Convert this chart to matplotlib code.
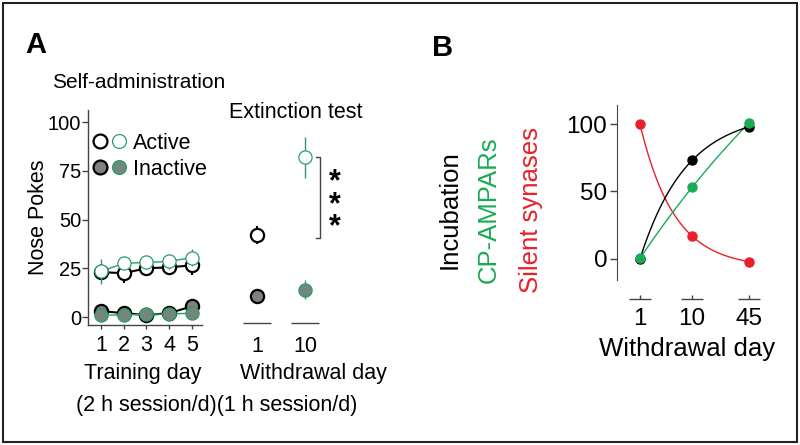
import numpy as np
import matplotlib
matplotlib.use("Agg")
import matplotlib.pyplot as plt
from matplotlib.lines import Line2D
from matplotlib.legend_handler import HandlerTuple
from matplotlib.patches import Rectangle

plt.rcParams['font.family'] = ['Liberation Sans', 'DejaVu Sans']

# =========================
# Data - panel A, self-administration
# =========================
train_days = [1, 2, 3, 4, 5]
active_blk = [23, 22.5, 25, 25.5, 26.5]
active_blk_err = [4, 5, 3.5, 4, 5]
active_grn = [23.5, 27.5, 28, 28.5, 30.5]
active_grn_err = [6.5, 3, 3, 4, 4.5]
inactive_blk = [3, 2, 1, 2, 5.5]
inactive_blk_err = [1, 1, 1, 1, 1.5]
inactive_grn = [1, 1, 1.5, 1.5, 2]
inactive_grn_err = [1, 1, 1, 1, 1]

# extinction test
ext_labels = ["1", "10"]
ext_active = [42, 82]
ext_active_err = [4.5, 10.5]
ext_inactive = [11, 14]
ext_inactive_err = [3, 5]
ext_colors = ["black", "#2a9d6c"]

# =========================
# Data - panel B
# =========================
wd_labels = ["1", "10", "45"]
wd_pos = [0, 1, 2.1]
incubation = [0, 73, 98]
cp_ampars = [0.5, 53, 101]
silent = [100, 17, -2]

GREEN_A = "#2a9d6c"
GREEN_B = "#1aab55"
RED_B = "#e8202b"
GRAY = "#808080"
GRAY_G = "#73877b"


def fit_exp(x, y):
    # y = a + b*exp(-k*x), grid search on k, least squares on a, b
    x = np.asarray(x, float)
    y = np.asarray(y, float)
    best = None
    for k in np.linspace(0.02, 6, 3000):
        A = np.column_stack([np.ones_like(x), np.exp(-k * x)])
        coef, *_ = np.linalg.lstsq(A, y, rcond=None)
        r = np.sum((A @ coef - y) ** 2)
        if best is None or r < best[0]:
            best = (r, coef[0], coef[1], k)
    return best[1:]


fig = plt.figure(figsize=(8, 4.45), dpi=100)

# =========================
# A1: self-administration
# =========================
ax1 = fig.add_axes([88/800, 1-325/445, 114/800, 215/445])
ax1.set_ylim(-4.1, 106.2)
ax1.set_xlim(0.43, 5.44)

ms = 9.5
ax1.errorbar(train_days, active_blk, yerr=active_blk_err, color="black", lw=1.5,
             marker="o", ms=ms, mfc="white", mec="black", mew=1.6, zorder=3)
ax1.errorbar(train_days, inactive_blk, yerr=inactive_blk_err, color="black", lw=1.5,
             marker="o", ms=ms, mfc=GRAY, mec="black", mew=1.6, zorder=3)
ax1.errorbar(train_days, active_grn, yerr=active_grn_err, color=GREEN_A, lw=1,
             marker="o", ms=ms, mfc="white", mec=GREEN_A, mew=0.9, zorder=4)
ax1.errorbar(train_days, inactive_grn, yerr=inactive_grn_err, color=GREEN_A, lw=1,
             marker="o", ms=ms, mfc=GRAY_G, mec=GREEN_A, mew=0.9, zorder=4)

for s in ["top", "right"]:
    ax1.spines[s].set_visible(False)
for s in ["left", "bottom"]:
    ax1.spines[s].set_color("#444444")
    ax1.spines[s].set_linewidth(1)
ax1.set_yticks([0, 25, 50, 75, 100])
ax1.set_xticks(train_days)
ax1.tick_params(axis="y", length=4, width=1, color="#444444", labelsize=14.5, pad=1)
ax1.tick_params(axis="x", length=3, width=1, color="#444444", labelsize=15.5, pad=4)
ax1.set_ylabel("Nose Pokes", fontsize=15.5, labelpad=-1)

h_act = (Line2D([], [], ls="", marker="o", ms=10, mfc="white", mec="black", mew=1.6),
         Line2D([], [], ls="", marker="o", ms=10, mfc="white", mec=GREEN_A, mew=0.9))
h_ina = (Line2D([], [], ls="", marker="o", ms=10, mfc=GRAY, mec="black", mew=1.6),
         Line2D([], [], ls="", marker="o", ms=10, mfc=GRAY_G, mec=GREEN_A, mew=0.9))
ax1.legend([h_act, h_ina], ["Active", "Inactive"],
           handler_map={tuple: HandlerTuple(ndivide=None, pad=0.2)},
           loc="upper left", bbox_to_anchor=(-0.01, 0.925), frameon=False,
           fontsize=15.5, handlelength=1.5, handletextpad=0.35, labelspacing=0.25,
           borderaxespad=0.2, borderpad=0.1)

# =========================
# A2: extinction test
# =========================
ax2 = fig.add_axes([230/800, 1-325/445, 130/800, 215/445])
ax2.set_ylim(-4.1, 106.2)
ax2.set_xlim(-0.5625, 2.146)
for i in range(len(ext_labels)):
    c = ext_colors[i]
    mew = 1.6 if i == 0 else 0.9
    lw = 1.5 if i == 0 else 1
    fill = GRAY if i == 0 else GRAY_G
    ax2.errorbar(i, ext_active[i], yerr=ext_active_err[i], color=c, lw=lw,
                 marker="o", ms=ms, mfc="white", mec=c, mew=mew)
    ax2.errorbar(i, ext_inactive[i], yerr=ext_inactive_err[i], color=c, lw=lw,
                 marker="o", ms=ms, mfc=fill, mec=c, mew=mew)
    ax2.hlines(-3, i - 0.3, i + 0.3, color="#444444", lw=1, clip_on=False)
for s in ax2.spines.values():
    s.set_visible(False)
ax2.set_yticks([])
ax2.set_xticks(range(len(ext_labels)))
ax2.set_xticklabels(ext_labels)
ax2.tick_params(axis="x", length=0, labelsize=15.5, pad=8)

# significance bracket
bx = 1.31
ax2.plot([bx - 0.08, bx, bx, bx - 0.08],
         [ext_active[1], ext_active[1], ext_active[0] - 1.5, ext_active[0] - 1.5],
         color="#444444", lw=1)
ax2.text(1.62, 57.5, "*\n*\n*", fontsize=22, fontweight="bold", ha="center",
         va="center", linespacing=0.66)

fig.text(139/800, 1-82/445, "Self-administration", fontsize=15, ha="center", va="center")
fig.text(296/800, 1-112/445, "Extinction test", fontsize=15.5, ha="center", va="center")
fig.text(143/800, 1-373/445, "Training day", fontsize=15.5, ha="center", va="center")
fig.text(313/800, 1-373/445, "Withdrawal day", fontsize=15.5, ha="center", va="center")
fig.text(217/800, 1-405/445, "(2 h session/d)(1 h session/d)", fontsize=15.5,
         ha="center", va="center")

# =========================
# B
# =========================
ax3 = fig.add_axes([617/800, 1-280/445, 168/800, 175/445])
ax3.set_ylim(-15.6, 114.1)
ax3.set_xlim(-0.442, 2.788)
xs = np.linspace(wd_pos[0], wd_pos[-1], 200)
for vals, col in [(silent, RED_B), (cp_ampars, GREEN_B), (incubation, "black")]:
    a, b, k = fit_exp(wd_pos, vals)
    ax3.plot(xs, a + b * np.exp(-k * xs), color=col, lw=1)
for vals, col in [(incubation, "black"), (cp_ampars, GREEN_B), (silent, RED_B)]:
    ax3.plot(wd_pos, vals, ls="", marker="o", ms=6.5, color=col)
for p in wd_pos:
    ax3.hlines(-29.6, p - 0.21, p + 0.21, color="#444444", lw=1, clip_on=False)
    ax3.vlines(p, -29.6, -26.5, color="#444444", lw=1, clip_on=False)
for s in ["top", "right", "bottom"]:
    ax3.spines[s].set_visible(False)
ax3.spines["left"].set_color("#444444")
ax3.set_yticks([0, 50, 100])
ax3.set_xticks(wd_pos)
ax3.set_xticklabels(wd_labels)
ax3.tick_params(axis="y", length=5, width=1, color="#444444", labelsize=17.5, pad=2)
ax3.tick_params(axis="x", length=0, labelsize=17.5, pad=20.5)

fig.text(687/800, 1-349/445, "Withdrawal day", fontsize=18.5, ha="center", va="center")
fig.text(450/800, 1-210/445, "Incubation", fontsize=18.5, rotation=90,
         ha="center", va="center", color="black")
fig.text(489/800, 1-210/445, "CP-AMPARs", fontsize=18.5, rotation=90,
         ha="center", va="center", color=GREEN_B)
fig.text(531/800, 1-210/445, "Silent synases", fontsize=18.5, rotation=90,
         ha="center", va="center", color=RED_B)

# panel letters
fig.text(36/800, 1-45/445, "A", fontsize=21, fontweight="bold", ha="center", va="center")
fig.text(443/800, 1-48/445, "B", fontsize=21, fontweight="bold", ha="center", va="center")

# border
fig.patches.append(Rectangle((3/800, 3/445), 794/800, 439/445, transform=fig.transFigure,
                             fill=False, lw=1.5, ec="#222222"))

fig.savefig("out.png", dpi=100)
